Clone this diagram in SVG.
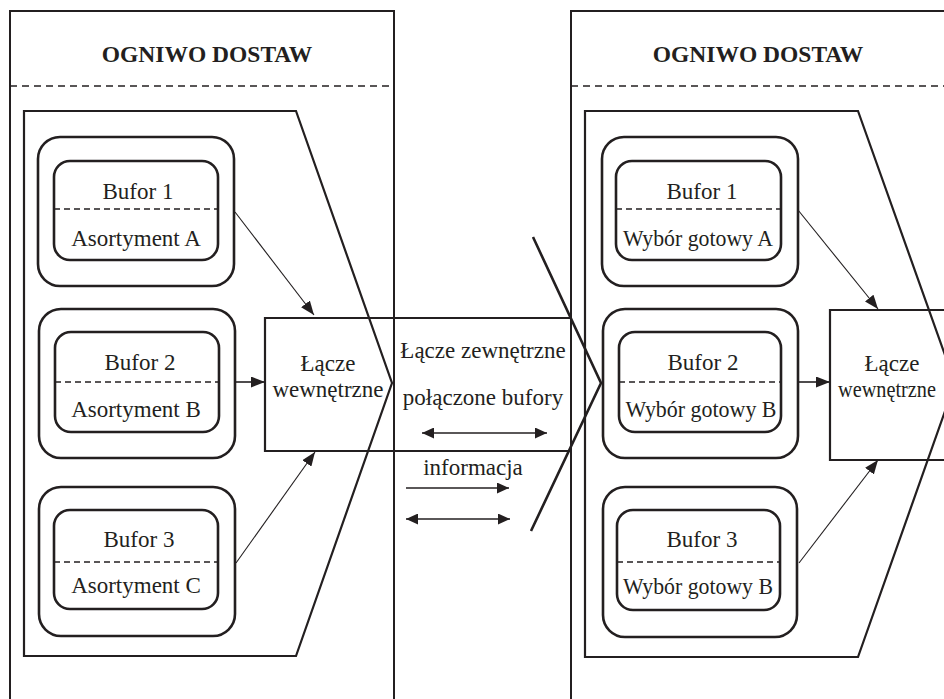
<svg xmlns="http://www.w3.org/2000/svg" width="944" height="699" viewBox="0 0 944 699">
<defs>
<style>
.bg{fill:#ffffff}
.frame{fill:none;stroke:#231f20;stroke-width:2}
.shape{fill:none;stroke:#231f20;stroke-width:2.2}
.rr{fill:none;stroke:#231f20;stroke-width:2.6}
.dash{fill:none;stroke:#231f20;stroke-width:1.4;stroke-dasharray:7 5}
.div{fill:none;stroke:#231f20;stroke-width:1.3;stroke-dasharray:6 4}
.thick{fill:none;stroke:#231f20;stroke-width:2.6}
.conn{fill:none;stroke:#231f20;stroke-width:1.1}
.conn2{fill:none;stroke:#231f20;stroke-width:1.6}
text{font-family:"Liberation Serif","Times New Roman",serif;font-size:23px;fill:#231f20;text-anchor:middle}
.title{font-weight:bold;font-size:23.5px}
</style>
<marker id="ah" markerWidth="14" markerHeight="11" refX="14" refY="5.5" orient="auto-start-reverse" markerUnits="userSpaceOnUse">
<path d="M0,0 L14,5.5 L0,11 z" fill="#231f20"/>
</marker>
<marker id="ah2" markerWidth="12" markerHeight="11" refX="12" refY="5.5" orient="auto-start-reverse" markerUnits="userSpaceOnUse">
<path d="M0,0 L12,5.5 L0,11 z" fill="#231f20"/>
</marker>
</defs>
<rect class="bg" x="0" y="0" width="944" height="699"/>

<g id="panel-left">
<rect class="frame" x="10" y="11" width="384" height="720"/>
<text class="title" x="207" y="62">OGNIWO DOSTAW</text>
<line class="dash" x1="10" y1="86" x2="394" y2="86"/>
<path class="shape" d="M24,111 L296,111 L392,383 L296,656 L24,656 Z"/>
</g>

<g id="panel-right">
<rect class="frame" x="571" y="11" width="400" height="720"/>
<text class="title" x="758" y="62">OGNIWO DOSTAW</text>
<line class="dash" x1="571" y1="86" x2="944" y2="86"/>
<path class="shape" d="M585,111 L858,111 L955,383 L858,657 L585,657 Z"/>
</g>

<g id="left-buf1">
<rect class="rr" x="38" y="137" width="196" height="149" rx="22"/>
<rect class="rr" x="54" y="161" width="164" height="99" rx="16"/>
<line class="div" x1="54" y1="209" x2="218" y2="209"/>
<text x="138" y="199">Bufor 1</text>
<text x="136" y="246">Asortyment A</text>
</g>
<g id="left-buf2">
<rect class="rr" x="39" y="309" width="196" height="149" rx="22"/>
<rect class="rr" x="55" y="332" width="164" height="100" rx="16"/>
<line class="div" x1="55" y1="382" x2="219" y2="382"/>
<text x="140" y="370">Bufor 2</text>
<text x="136" y="417">Asortyment B</text>
</g>
<g id="left-buf3">
<rect class="rr" x="39" y="487" width="196" height="149" rx="22"/>
<rect class="rr" x="54" y="510" width="164" height="99" rx="16"/>
<line class="div" x1="54" y1="562" x2="218" y2="562"/>
<text x="139" y="547">Bufor 3</text>
<text x="136" y="593">Asortyment C</text>
</g>

<g id="left-link">
<path class="shape" d="M570,318 L265,318 L265,451 L570,451"/>
<text x="328" y="371">Łącze</text>
<text x="328" y="397">wewnętrzne</text>
</g>

<g id="external-link">
<path class="thick" d="M533,237 L601,383 L531,531"/>
<text x="483" y="358">Łącze zewnętrzne</text>
<text x="483" y="405">połączone bufory</text>
<text x="473" y="475">informacja</text>
</g>

<g id="right-buf1">
<rect class="rr" x="602" y="137" width="196" height="149" rx="22"/>
<rect class="rr" x="616" y="161" width="165" height="99" rx="16"/>
<line class="div" x1="616" y1="209" x2="781" y2="209"/>
<text x="702" y="199">Bufor 1</text>
<text x="698" y="246" textLength="150" lengthAdjust="spacingAndGlyphs">Wybór gotowy A</text>
</g>
<g id="right-buf2">
<rect class="rr" x="603" y="309" width="195" height="149" rx="22"/>
<rect class="rr" x="619" y="332" width="162" height="100" rx="16"/>
<line class="div" x1="619" y1="382" x2="781" y2="382"/>
<text x="703" y="370">Bufor 2</text>
<text x="701" y="417" textLength="151" lengthAdjust="spacingAndGlyphs">Wybór gotowy B</text>
</g>
<g id="right-buf3">
<rect class="rr" x="603" y="487" width="194" height="150" rx="22"/>
<rect class="rr" x="617" y="510" width="163" height="100" rx="16"/>
<line class="div" x1="617" y1="562" x2="780" y2="562"/>
<text x="702" y="547">Bufor 3</text>
<text x="698" y="594" textLength="150" lengthAdjust="spacingAndGlyphs">Wybór gotowy B</text>
</g>

<g id="right-link">
<path class="shape" d="M960,310 L830,310 L830,460 L960,460"/>
<text x="892" y="371">Łącze</text>
<text x="887" y="397" textLength="98" lengthAdjust="spacingAndGlyphs">wewnętrzne</text>
</g>

<g id="connectors">
<line class="conn" x1="235" y1="212" x2="314" y2="315" marker-end="url(#ah)"/>
<line class="conn2" x1="235" y1="382" x2="265" y2="382" marker-end="url(#ah)"/>
<line class="conn" x1="236" y1="563" x2="315" y2="452" marker-end="url(#ah)"/>
<line class="conn" x1="798" y1="210" x2="878" y2="309" marker-end="url(#ah)"/>
<line class="conn2" x1="798" y1="382" x2="830" y2="382" marker-end="url(#ah)"/>
<line class="conn" x1="799" y1="563" x2="878" y2="460" marker-end="url(#ah)"/>
<line class="conn2" x1="422" y1="433" x2="547" y2="433" marker-start="url(#ah2)" marker-end="url(#ah2)"/>
<line class="conn2" x1="406" y1="488" x2="509" y2="488" marker-end="url(#ah2)"/>
<line class="conn2" x1="406" y1="519" x2="510" y2="519" marker-start="url(#ah2)" marker-end="url(#ah2)"/>
</g>
</svg>
